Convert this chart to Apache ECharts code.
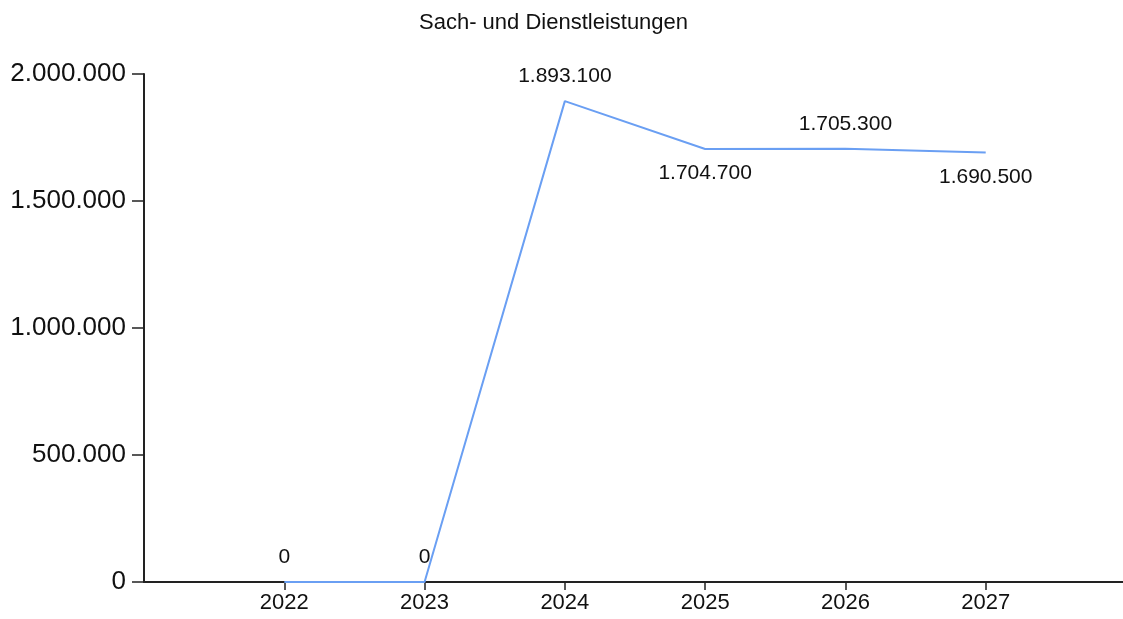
<!DOCTYPE html>
<html>
<head>
<meta charset="utf-8">
<title>Sach- und Dienstleistungen</title>
<script src="https://cdn.jsdelivr.net/npm/echarts@6/dist/echarts.min.js"></script>
<style>
  html, body { margin: 0; padding: 0; background: #fff; }
  #chart { width: 1123px; height: 619px; }
</style>
</head>
<body>
<div id="chart"></div>
<script>
// Jahre und Werte
const years = [2022, 2023, 2024, 2025, 2026, 2027]
const values = [0, 0, 1893100, 1704700, 1705300, 1690500]
// wo das Datenlabel steht
const labelPos = ['top', 'top', 'top', 'bottom', 'top', 'bottom']
const yTicks = [0, 500000, 1000000, 1500000, 2000000]

// 1234567 -> 1.234.567
function fmt (v) {
  return String(Math.round(v)).replace(/\B(?=(\d{3})+(?!\d))/g, '.')
}

const chart = echarts.init(document.getElementById('chart'), null, { renderer: 'canvas' })

const seriesData = years.map((y, i) => ({
  value: [y, values[i]],
  label: { position: labelPos[i] }
}))

const option = {
  animation: false,
  textStyle: { fontFamily: 'Liberation Sans, Arial, sans-serif' },
  title: {
    text: 'Sach- und Dienstleistungen',
    left: 414,
    top: 7,
    textStyle: { fontSize: 22, fontWeight: 'normal', color: '#111' }
  },
  // Plotflaeche reicht knapp ueber den rechten Rand hinaus (Achse laeuft bis zum Rand)
  grid: { left: 144, width: 982, top: 74, bottom: 37, outerBoundsMode: 'none' },
  xAxis: {
    type: 'value',
    min: years[0] - 1,
    max: years[years.length - 1] + 1,
    interval: 1,
    splitLine: { show: false },
    axisLine: { lineStyle: { color: '#222', width: 2 } },
    axisTick: { show: true, length: 8, customValues: years, lineStyle: { color: '#222', width: 1.5 } },
    axisLabel: {
      customValues: years,
      fontSize: 22,
      color: '#111',
      margin: 10,
      formatter: v => String(v)
    }
  },
  yAxis: {
    type: 'value',
    min: yTicks[0],
    max: yTicks[yTicks.length - 1],
    interval: 500000,
    splitLine: { show: false },
    axisLine: { show: true, lineStyle: { color: '#222', width: 2 } },
    axisTick: { show: true, length: 12, lineStyle: { color: '#222', width: 1.5 } },
    axisLabel: { fontSize: 26, color: '#111', margin: 18, formatter: v => fmt(v) }
  },
  series: [
    {
      type: 'line',
      data: seriesData,
      showSymbol: true,
      symbol: 'circle',
      symbolSize: 0,
      lineStyle: { color: '#6a9ff3', width: 2 },
      itemStyle: { color: '#6a9ff3' },
      label: {
        show: true,
        fontSize: 21,
        color: '#111',
        distance: 14,
        formatter: p => fmt(p.value[1])
      }
    }
  ]
}

chart.setOption(option)
</script>
</body>
</html>
